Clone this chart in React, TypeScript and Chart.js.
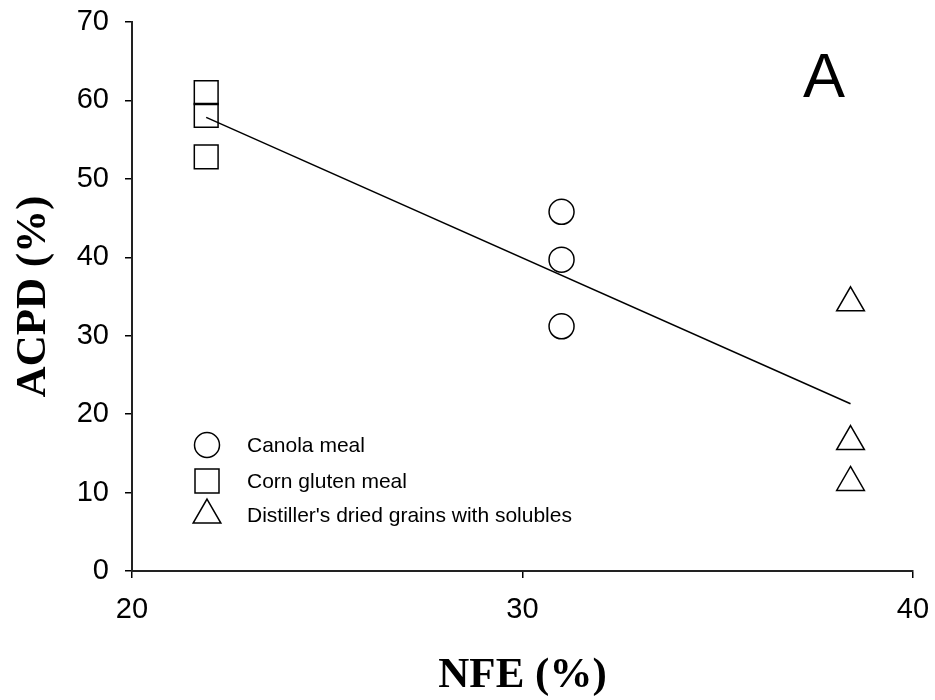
import React, { useEffect, useRef } from "react";
import { Chart, registerables } from "chart.js";

Chart.register(...registerables);

const canolaX = [31.0, 31.0, 31.0];
const canolaY = [45.8, 39.7, 31.2];
const cornX = [21.9, 21.9, 21.9];
const cornY = [61.0, 58.1, 52.8];
const ddgsX = [38.4, 38.4, 38.4];
const ddgsY = [34.2, 16.5, 11.3];
const fitX = [21.9, 38.4];
const fitY = [57.84, 21.32];
const legendLabels = ["Canola meal", "Corn gluten meal", "Distiller's dried grains with solubles"];
const panelLabel = "A";

const SANS = "'Liberation Sans', Arial, sans-serif";
const SERIF = "'Liberation Serif', 'Times New Roman', serif";

const zip = (xs: number[], ys: number[]) => xs.map((x, i) => ({ x, y: ys[i] }));

const overlayPlugin = {
  id: "overlay",
  afterDraw(chart: any) {
    const { ctx, chartArea } = chart;
    const { left, bottom, right, top } = chartArea;
    ctx.save();
    ctx.strokeStyle = "#000";
    ctx.lineWidth = 1.5;
    ctx.fillStyle = "#000";
    const symX = left + 75;
    const textX = left + 115;
    const rows = [bottom - 126, bottom - 90, bottom - 56];
    // circle
    ctx.beginPath();
    ctx.arc(symX, rows[0], 12.5, 0, Math.PI * 2);
    ctx.stroke();
    // square
    ctx.beginPath();
    ctx.rect(symX - 12, rows[1] - 12, 24, 24);
    ctx.stroke();
    // triangle
    const r = 16;
    const cy = rows[2];
    ctx.beginPath();
    ctx.moveTo(symX, cy - r);
    ctx.lineTo(symX + r * Math.sin(Math.PI / 3), cy + r * 0.5);
    ctx.lineTo(symX - r * Math.sin(Math.PI / 3), cy + r * 0.5);
    ctx.closePath();
    ctx.stroke();
    ctx.font = `21px ${SANS}`;
    ctx.textBaseline = "middle";
    ctx.textAlign = "left";
    legendLabels.forEach((t, i) => {
      ctx.fillText(t, textX, rows[i] + 1);
    });
    ctx.font = `63px ${SANS}`;
    ctx.textBaseline = "alphabetic";
    ctx.fillText(panelLabel, right - 110, top + 75);
    ctx.restore();
  },
};

export default function App() {
  const ref = useRef<HTMLCanvasElement | null>(null);
  useEffect(() => {
    document.body.style.margin = "0";
    const marker = {
      borderColor: "#000",
      backgroundColor: "rgba(0,0,0,0)",
      borderWidth: 1.5,
      showLine: false,
    };
    const chart = new Chart(ref.current!, {
      type: "scatter",
      data: {
        datasets: [
          {
            type: "line",
            label: "fit",
            data: zip(fitX, fitY),
            borderColor: "#000",
            borderWidth: 1.5,
            pointRadius: 0,
            showLine: true,
            fill: false,
          } as any,
          { label: legendLabels[0], data: zip(canolaX, canolaY), pointStyle: "circle", pointRadius: 12.5, ...marker },
          { label: legendLabels[1], data: zip(cornX, cornY), pointStyle: "rect", pointRadius: 16.8, ...marker },
          { label: legendLabels[2], data: zip(ddgsX, ddgsY), pointStyle: "triangle", pointRadius: 16, ...marker },
        ],
      },
      options: {
        animation: false,
        responsive: true,
        maintainAspectRatio: false,
        layout: { padding: { top: 22, right: 22, left: 0, bottom: 0 } },
        plugins: { legend: { display: false }, tooltip: { enabled: false } },
        scales: {
          x: {
            type: "linear",
            min: 20,
            max: 40,
            afterFit: (s: any) => {
              s.height = 129;
              s.paddingLeft = 0;
              s.paddingRight = 0;
            },
            ticks: { stepSize: 10, font: { family: SANS, size: 29 }, color: "#000", padding: 15 },
            grid: { drawOnChartArea: false, drawTicks: true, tickLength: 7, color: "#000", lineWidth: 1.5 },
            border: { display: true, color: "#222", width: 2 },
            title: {
              display: true,
              text: "NFE (%)",
              font: { family: SERIF, size: 43, weight: "bold" },
              color: "#000",
              padding: { top: 0, bottom: -2 },
            },
          },
          y: {
            type: "linear",
            min: 0,
            max: 70,
            afterFit: (s: any) => {
              s.width = 132;
              s.paddingTop = 0;
              s.paddingBottom = 0;
            },
            ticks: { stepSize: 10, font: { family: SANS, size: 29 }, color: "#000", padding: 16 },
            grid: { drawOnChartArea: false, drawTicks: true, tickLength: 7, color: "#000", lineWidth: 1.5 },
            border: { display: true, color: "#222", width: 2 },
            title: {
              display: true,
              text: "ACPD (%)",
              font: { family: SERIF, size: 43, weight: "bold" },
              color: "#000",
              padding: { top: 8, bottom: 0 },
            },
          },
        },
      },
      plugins: [overlayPlugin],
    } as any);
    return () => chart.destroy();
  }, []);
  return (
    <div style={{ width: 935, height: 700, position: "relative" }}>
      <canvas ref={ref} />
    </div>
  );
}
